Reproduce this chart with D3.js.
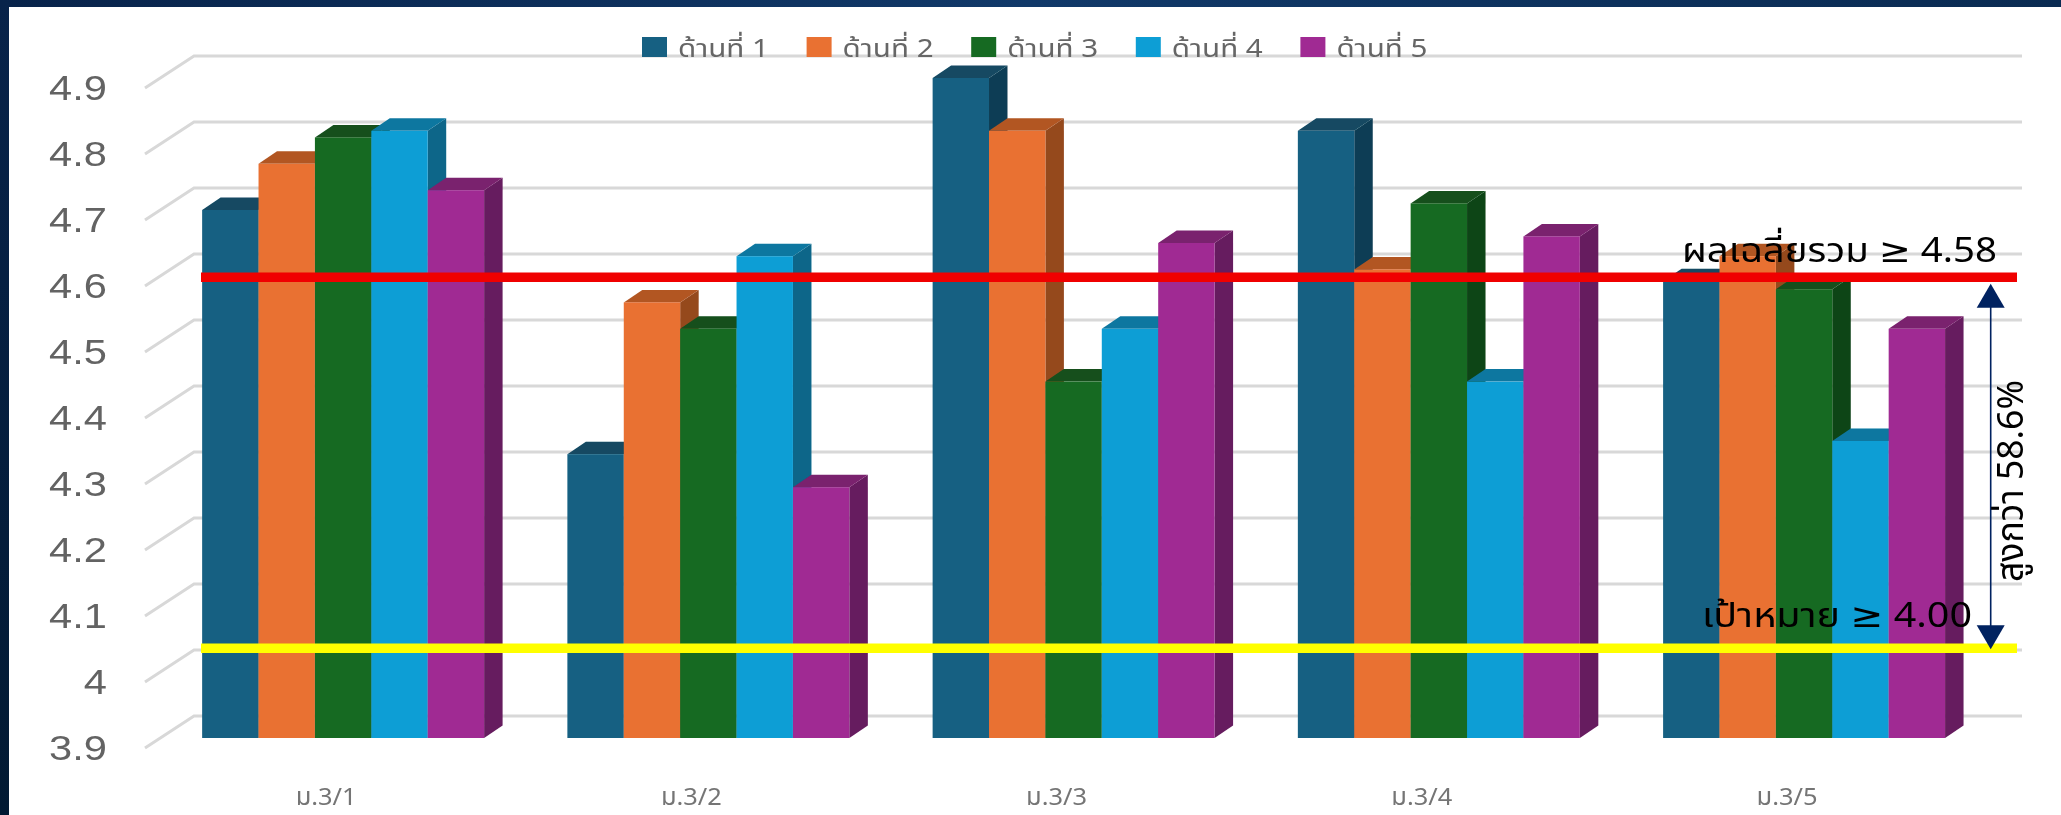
<!DOCTYPE html>
<html lang="th">
<head>
<meta charset="utf-8">
<title>ผลเฉลี่ยรวม</title>
<script src="https://cdnjs.cloudflare.com/ajax/libs/d3/7.8.5/d3.min.js"></script>
<style>
    html, body { margin: 0; padding: 0; background: #fff; }
    svg { display: block; font-family: "Liberation Sans", Arial, sans-serif; }
</style>
</head>
<body>
<div id="chart"></div>
<script>
// chart data
const classes = ["ม.3/1", "ม.3/2", "ม.3/3", "ม.3/4", "ม.3/5"];
const sides = ["ด้านที่ 1", "ด้านที่ 2", "ด้านที่ 3", "ด้านที่ 4", "ด้านที่ 5"];
const side1 = [4.70, 4.33, 4.90, 4.82, 4.592];
const side2 = [4.77, 4.56, 4.82, 4.61, 4.63];
const side3 = [4.81, 4.52, 4.44, 4.71, 4.58];
const side4 = [4.82, 4.63, 4.52, 4.44, 4.35];
const side5 = [4.73, 4.28, 4.65, 4.66, 4.52];
const seriesValues = [side1, side2, side3, side4, side5];
const yTicks = [3.9, 4, 4.1, 4.2, 4.3, 4.4, 4.5, 4.6, 4.7, 4.8, 4.9];

// where the two reference lines sit on the value axis
const averageLine = 4.598;
const targetLine = 4.036;

// front, top and side faces of each series
const frontColors = ["#156082", "#e97132", "#196b24", "#0f9ed5", "#a02b93"];
const topColors = ["#124962", "#b25724", "#13501b", "#0b77a0", "#7a206e"];
const sideColors = ["#0e3e54", "#95491f", "#114416", "#0a6689", "#661b5e"];

const width = 2061, height = 815;
const thaiFont = '"Noto Sans Thai", "Noto Sans", "DejaVu Sans", "Liberation Sans", sans-serif';

const svg = d3.select("#chart").append("svg")
    .attr("width", width)
    .attr("height", height);

const defs = svg.append("defs");

// the picture is a slightly soft screenshot
defs.append("filter")
    .attr("id", "soft")
    .attr("filterUnits", "userSpaceOnUse")
    .attr("x", 0).attr("y", 0)
    .attr("width", width).attr("height", height)
    .append("feGaussianBlur")
    .attr("stdDeviation", 0.7);

// slide frame
const topFrame = defs.append("linearGradient").attr("id", "topFrame");
topFrame.append("stop").attr("offset", "0%").attr("stop-color", "#08234a");
topFrame.append("stop").attr("offset", "50%").attr("stop-color", "#113969");
topFrame.append("stop").attr("offset", "100%").attr("stop-color", "#0a2b52");

const leftFrame = defs.append("linearGradient").attr("id", "leftFrame")
    .attr("x1", 0).attr("y1", 0).attr("x2", 0).attr("y2", 1);
leftFrame.append("stop").attr("offset", "0%").attr("stop-color", "#08234a");
leftFrame.append("stop").attr("offset", "100%").attr("stop-color", "#021a33");

svg.append("rect").attr("width", 9).attr("height", height).attr("fill", "url(#leftFrame)");
svg.append("rect").attr("width", width).attr("height", 7).attr("fill", "url(#topFrame)");

const chart = svg.append("g").attr("filter", "url(#soft)");

// scales, y is the plane of the bar fronts
const y = d3.scaleLinear().domain([3.9, 4.9]).range([738, 78]);
const x0 = d3.scaleBand().domain(classes)
    .range([160.5, 1986.7])
    .paddingInner(0.228)
    .paddingOuter(0.114);
const x1 = d3.scaleBand().domain(d3.range(sides.length)).range([0, x0.bandwidth()]);

// 3d offsets
const wallDown = -22, floorDown = 10;      // back wall and axis edge vs the bar plane
const wallLeft = 194, wallRight = 2022, axisEdge = 145;
const barDx = 18.5, barDy = 12.5;

// gridlines on the back wall and the floor edge
const grid = chart.append("g").attr("stroke", "#d8d8d8").attr("stroke-width", 3).attr("fill", "none");
grid.selectAll("path")
    .data(yTicks)
    .join("path")
    .attr("d", d => d3.line()([
        [axisEdge, y(d) + floorDown],
        [wallLeft, y(d) + wallDown],
        [wallRight, y(d) + wallDown]
    ]));

// y axis labels
const yAxis = chart.append("g")
    .attr("transform", `translate(107,${floorDown})`)
    .call(d3.axisLeft(y).tickValues(yTicks).tickSize(0).tickPadding(0).tickFormat(d => d));
yAxis.select(".domain").remove();
yAxis.selectAll("text")
    .attr("font-family", '"Liberation Sans", Arial, sans-serif')
    .attr("font-size", 35)
    .attr("fill", "#636363")
    .attr("transform", "scale(1.19,1)");

// x axis labels
const xAxis = chart.append("g")
    .attr("transform", "translate(-17,805)")
    .call(d3.axisBottom(x0).tickSize(0).tickPadding(0));
xAxis.select(".domain").remove();
xAxis.selectAll("text")
    .attr("y", 0).attr("dy", 0)
    .attr("font-family", thaiFont)
    .attr("font-size", 24)
    .attr("fill", "#757575")
    .attr("textLength", 61)
    .attr("lengthAdjust", "spacingAndGlyphs");

// bars, left to right so each one covers its neighbour's side
const baseY = y(3.9);
const groups = chart.append("g").selectAll("g")
    .data(classes)
    .join("g")
    .attr("transform", d => `translate(${x0(d)},0)`);

sides.forEach((s, si) => {
    const w = x1.bandwidth();
    const bars = groups.append("g")
        .datum((c, ci) => ({value: seriesValues[si][ci], x: x1(si)}));

    bars.append("path")
        .attr("fill", sideColors[si])
        .attr("d", d => d3.line()([
            [d.x + w, y(d.value)],
            [d.x + w + barDx, y(d.value) - barDy],
            [d.x + w + barDx, baseY - barDy],
            [d.x + w, baseY]
        ]) + "Z");

    bars.append("path")
        .attr("fill", topColors[si])
        .attr("d", d => d3.line()([
            [d.x, y(d.value)],
            [d.x + barDx, y(d.value) - barDy],
            [d.x + w + barDx, y(d.value) - barDy],
            [d.x + w, y(d.value)]
        ]) + "Z");

    bars.append("rect")
        .attr("fill", frontColors[si])
        .attr("x", d => d.x)
        .attr("y", d => y(d.value))
        .attr("width", w)
        .attr("height", d => baseY - y(d.value));
});

// legend sits on top of the highest gridline
const legend = chart.append("g").selectAll("g")
    .data(sides)
    .join("g")
    .attr("transform", (d, i) => `translate(${642 + i * 164.6},0)`);

legend.append("rect")
    .attr("y", 37)
    .attr("width", 25)
    .attr("height", 20)
    .attr("fill", (d, i) => frontColors[i]);

legend.append("text")
    .attr("x", 36)
    .attr("y", 57)
    .attr("font-family", thaiFont)
    .attr("font-size", 25)
    .attr("fill", "#666")
    .attr("textLength", 91)
    .attr("lengthAdjust", "spacingAndGlyphs")
    .text(d => d);

// reference lines
const refLines = chart.append("g").attr("stroke-width", 9.5);
refLines.append("line")
    .attr("x1", 201).attr("x2", 2017)
    .attr("y1", y(averageLine)).attr("y2", y(averageLine))
    .attr("stroke", "#f00000");
refLines.append("line")
    .attr("x1", 201).attr("x2", 2017)
    .attr("y1", y(targetLine)).attr("y2", y(targetLine))
    .attr("stroke", "#ffff00");

// double arrow between the two lines
const arrowX = 1990.7, arrowColor = "#002060";
const upTip = y(averageLine) + 6.5, downTip = y(targetLine) + 1;
const arrow = chart.append("g");
arrow.append("line")
    .attr("x1", arrowX).attr("x2", arrowX)
    .attr("y1", upTip + 20).attr("y2", downTip - 20)
    .attr("stroke", arrowColor)
    .attr("stroke-width", 1.6);
arrow.append("path")
    .attr("fill", arrowColor)
    .attr("d", d3.line()([[arrowX, upTip], [arrowX + 14, upTip + 24], [arrowX - 14, upTip + 24]]) + "Z");
arrow.append("path")
    .attr("fill", arrowColor)
    .attr("d", d3.line()([[arrowX, downTip], [arrowX + 14, downTip - 24], [arrowX - 14, downTip - 24]]) + "Z");

// annotations
const note = chart.append("g")
    .attr("font-family", thaiFont)
    .attr("fill", "#000");

note.append("text")
    .attr("x", 1682).attr("y", 262)
    .attr("font-size", 34)
    .attr("textLength", 315)
    .attr("lengthAdjust", "spacingAndGlyphs")
    .text("ผลเฉลี่ยรวม ≥ 4.58");

note.append("text")
    .attr("x", 1702).attr("y", 627)
    .attr("font-size", 34)
    .attr("textLength", 270)
    .attr("lengthAdjust", "spacingAndGlyphs")
    .text("เป้าหมาย ≥ 4.00");

note.append("text")
    .attr("transform", "translate(2023,582) rotate(-90)")
    .attr("font-size", 37)
    .attr("textLength", 202)
    .attr("lengthAdjust", "spacingAndGlyphs")
    .text("สูงกว่า 58.6%");
</script>
</body>
</html>
